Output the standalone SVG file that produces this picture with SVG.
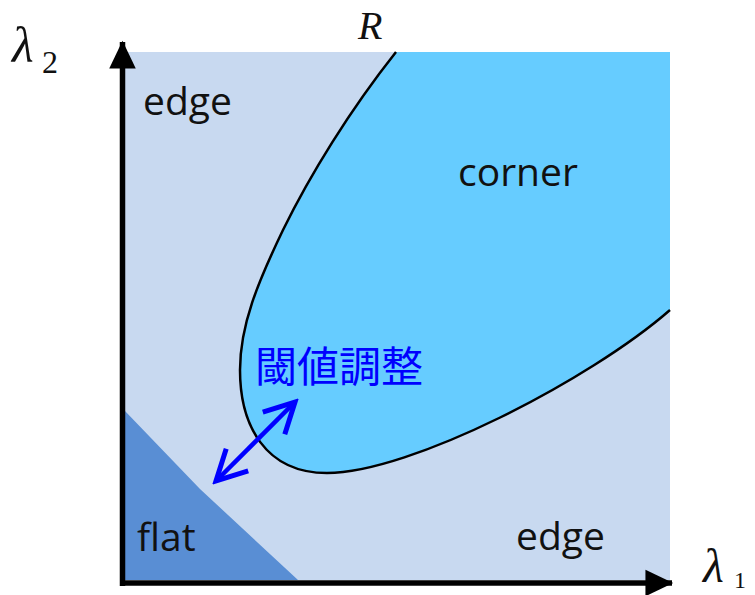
<svg xmlns="http://www.w3.org/2000/svg" width="755" height="595" viewBox="0 0 755 595">
<style>
.lbl{font-family:"Open Sans","Noto Sans","DejaVu Sans",sans-serif;font-size:39px;fill:#111}
.math{font-family:"Liberation Serif","DejaVu Serif",serif;font-style:italic;fill:#111}
.sub{font-family:"Liberation Serif","DejaVu Serif",serif;fill:#111}
.cjk{font-family:"Noto Sans CJK JP","Noto Sans CJK SC",sans-serif;font-size:42px;fill:#0000FF}
.axis{stroke:#000;stroke-width:5.5;fill:none}
</style>
<defs>
<marker id="ax" markerUnits="userSpaceOnUse" markerWidth="30" markerHeight="30" viewBox="-24 -12 26 24" refX="0" refY="0" orient="auto">
<path d="M-23,-11.5 L1,0 L-23,11.5 Z" fill="#000"/>
</marker>
<marker id="bh" markerUnits="userSpaceOnUse" markerWidth="40" markerHeight="40" viewBox="-32 -18 36 36" refX="0" refY="0" orient="auto-start-reverse">
<path d="M-27,-14 L0,0 L-27,14" fill="none" stroke="#0000FF" stroke-width="4.5" stroke-linejoin="miter"/>
</marker>
</defs>
<rect width="755" height="595" fill="#fff"/>
<g id="plot">
<rect id="edge-region" x="125" y="52" width="545" height="528" fill="#C8D9F0"/>
<path id="flat-region" d="M125,411 L200,489 L298,580 L125,580 Z" fill="#598ED4"/>
<path id="corner-region" d="M396,52 C350,110 310,175 283,230 C258,282 240,325 240,370 C240,425 265,473 327,473 C410,473 590,380 670,310 L670,52 Z" fill="#66CCFF"/>
<path id="boundary" d="M396,52 C350,110 310,175 283,230 C258,282 240,325 240,370 C240,425 265,473 327,473 C410,473 590,380 670,310" fill="none" stroke="#000" stroke-width="2.5"/>
</g>
<g id="connectors">
<path id="y-axis" class="axis" d="M122.5,586 L122.5,42" marker-end="url(#ax)"/>
<path id="x-axis" class="axis" d="M120,583 L672,583" marker-end="url(#ax)"/>
<path id="threshold-arrow" d="M216,481 L295,402" stroke="#0000FF" stroke-width="4.5" fill="none" marker-start="url(#bh)" marker-end="url(#bh)"/>
</g>
<g id="labels">
<text class="lbl" x="143" y="115">edge</text>
<text class="lbl" x="458" y="186">corner</text>
<text class="lbl" x="516" y="550">edge</text>
<text class="lbl" x="137" y="551">flat</text>
<text class="cjk" x="255" y="382">閾値調整</text>
<text class="math" x="358" y="39" font-size="40">R</text>
<text class="math" x="12" y="62" font-size="50">λ</text>
<text class="sub" x="42" y="73" font-size="32">2</text>
<text class="math" x="703" y="582" font-size="48">λ</text>
<text class="sub" x="734" y="588" font-size="24">1</text>
</g>
</svg>
